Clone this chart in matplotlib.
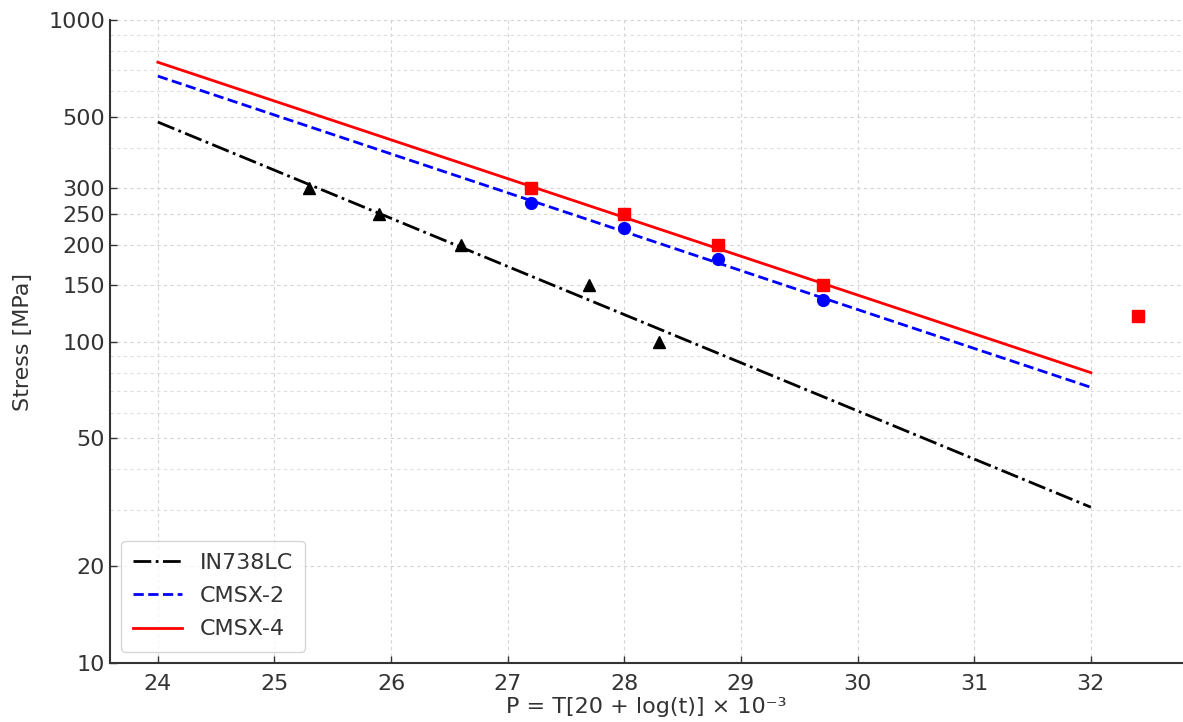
import matplotlib
matplotlib.use("Agg")
import matplotlib.pyplot as plt
from matplotlib.ticker import FixedLocator, FixedFormatter, LogLocator, NullFormatter

# ---- data ----
fit_p = [24, 32]
in738_fit = [482, 30.5]
cmsx2_fit = [670, 72]
cmsx4_fit = [740, 80]

in738_p = [25.3, 25.9, 26.6, 27.7, 28.3]
in738_s = [300, 250, 200, 150, 100]

cmsx2_p = [27.2, 28.0, 28.8, 29.7]
cmsx2_s = [270, 225, 180, 135]

cmsx4_p = [27.2, 28.0, 28.8, 29.7, 32.4]
cmsx4_s = [300, 250, 200, 150, 120]

y_ticks = [10, 20, 50, 100, 150, 200, 250, 300, 500, 1000]
x_ticks = [24, 25, 26, 27, 28, 29, 30, 31, 32]

txt = "#333333"

fig = plt.figure(figsize=(11.83, 7.22), dpi=100)
ax = fig.add_axes([0.093, 0.082, 0.907, 0.890])

ax.plot(fit_p, in738_fit, color="black", linestyle="-.", lw=2, label="IN738LC")
ax.plot(fit_p, cmsx2_fit, color="blue", linestyle="--", lw=2, label="CMSX-2")
ax.plot(fit_p, cmsx4_fit, color="red", linestyle="-", lw=2, label="CMSX-4")

ax.plot(in738_p, in738_s, "^", color="black", ms=8.5)
ax.plot(cmsx2_p, cmsx2_s, "o", color="blue", ms=8.5)
ax.plot(cmsx4_p, cmsx4_s, "s", color="red", ms=8.5)

ax.set_yscale("log")
ax.set_ylim(10, 1000)
ax.set_xlim(23.59, 32.79)

ax.yaxis.set_major_locator(FixedLocator(y_ticks))
ax.yaxis.set_major_formatter(FixedFormatter([str(v) for v in y_ticks]))
ax.yaxis.set_minor_locator(LogLocator(base=10, subs=range(2, 10)))
ax.yaxis.set_minor_formatter(NullFormatter())
ax.set_xticks(x_ticks)

ax.grid(True, which="major", linestyle=(0, (3, 3)), color="#d4d4d4", lw=0.8)
ax.grid(True, which="minor", axis="y", linestyle=(0, (3, 3)), color="#dedede", lw=0.8)
ax.set_axisbelow(True)

for side in ["top", "right"]:
    ax.spines[side].set_visible(False)
for side in ["left", "bottom"]:
    ax.spines[side].set_color(txt)
    ax.spines[side].set_linewidth(1.5)

ax.tick_params(axis="both", which="major", direction="in", labelsize=16,
               colors=txt, length=5, width=1)
ax.tick_params(axis="x", which="major", pad=8)
ax.tick_params(axis="y", which="minor", direction="in", length=0)

ax.set_xlabel("P = T[20 + log(t)] × 10⁻³", fontsize=16, color=txt, labelpad=2)
ax.set_ylabel("Stress [MPa]", fontsize=16, color=txt, labelpad=11)

leg = ax.legend(loc="lower left", fontsize=16, handlelength=2.2,
                borderpad=0.55, labelspacing=0.6, framealpha=0.8)
for t in leg.get_texts():
    t.set_color(txt)

fig.savefig("out.png", dpi=100)
